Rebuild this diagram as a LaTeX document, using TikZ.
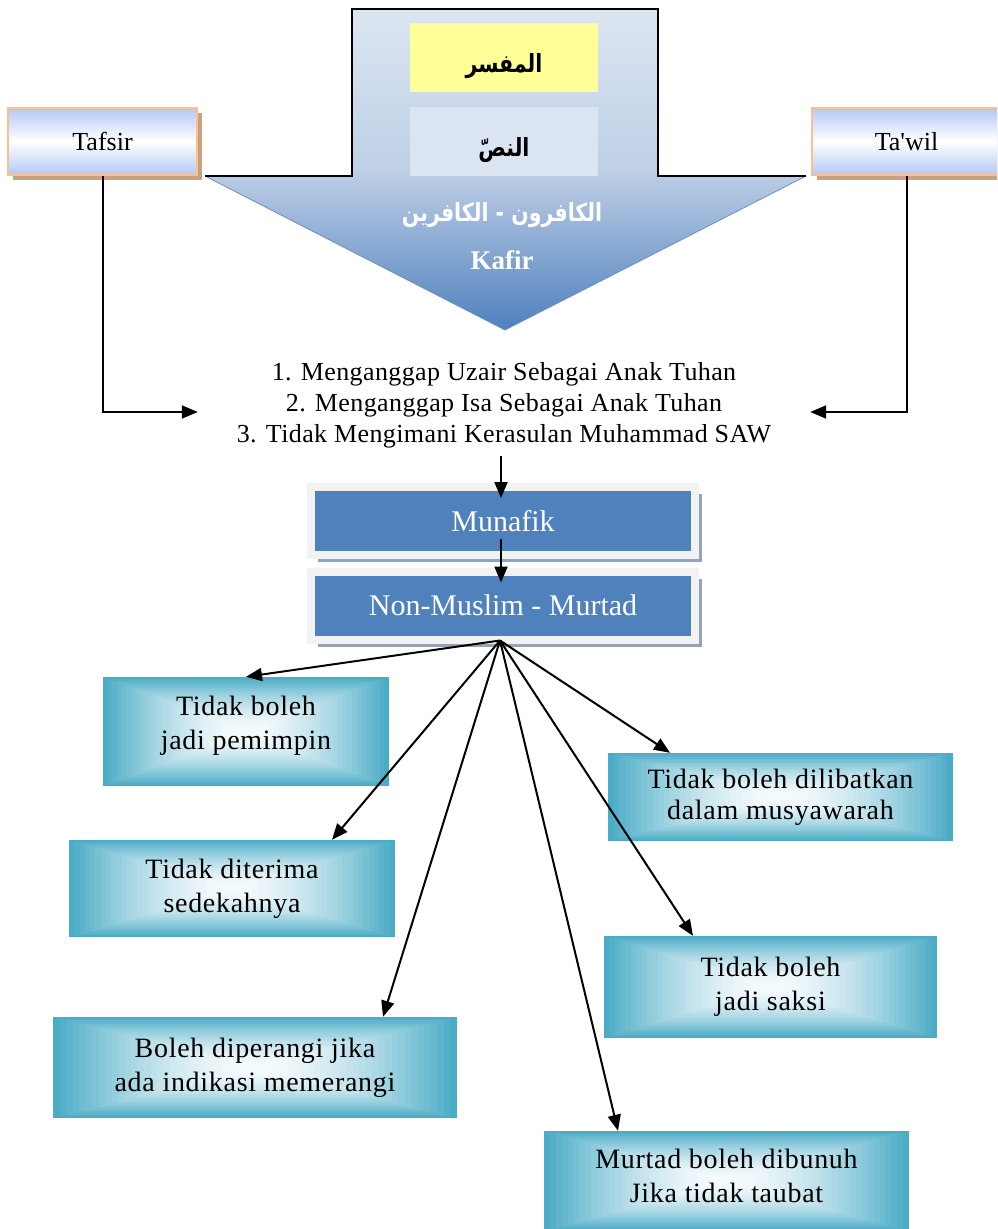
\documentclass[tikz,border=0pt]{standalone}
\usepackage{fontspec}
\setmainfont{Liberation Serif}
\newfontfamily\arabicfont[Script=Arabic,FakeStretch=0.82]{DejaVu Sans}
\newfontfamily\listfont[LetterSpace=1.5]{Liberation Serif}
\newfontfamily\boxfontfam[LetterSpace=2.5]{Liberation Serif}
\TeXXeTstate=1
\usetikzlibrary{calc,arrows.meta,shadows}
\definecolor{tealc}{HTML}{4BACC6}
\definecolor{arrowtop}{HTML}{DCE6F2}
\definecolor{arrowmid}{HTML}{BFCFE6}
\definecolor{arrowbot}{HTML}{4F81BD}
\definecolor{arrowedge}{HTML}{6F8FBF}
\definecolor{yellowc}{HTML}{FFFF99}
\definecolor{paleblue}{HTML}{DBE5F1}
\definecolor{peach}{HTML}{FAC090}
\definecolor{shadowtan}{HTML}{C9A17F}
\definecolor{lightbl}{HTML}{B3C8F4}
\definecolor{boxblue}{HTML}{4F81BD}
\definecolor{greyframe}{HTML}{F2F2F2}
\definecolor{greyshadow}{HTML}{95A3B6}
\tikzset{
  arr/.style={line width=2pt, -{Triangle[length=16pt,width=13pt]}},
  inbox/.style={minimum width=188pt, minimum height=69pt, inner sep=0pt, text height=29pt, text depth=0pt,
    font=\arabicfont\bfseries\fontsize{25}{30}\selectfont},
  sidebox/.style={draw=peach, line width=2pt, top color=lightbl, bottom color=lightbl, middle color=white,
    minimum width=189pt, minimum height=67pt, inner sep=0pt, font=\fontsize{26}{30}\selectfont,
    drop shadow={shadow xshift=5pt, shadow yshift=-5pt, fill=shadowtan, opacity=1}},
  bluebox/.style={fill=boxblue, draw=greyframe, line width=8pt, minimum width=384.5pt, minimum height=68pt,
    inner sep=0pt, text=white, font=\fontsize{30}{34}\selectfont,
    drop shadow={shadow xshift=7pt, shadow yshift=-7pt, fill=greyshadow, opacity=1}},
  tealbox/.style={inner sep=0pt, align=center, font=\boxfontfam\fontsize{28}{34}\selectfont,
    path picture={
      \foreach \i in {0,...,30}{
        \pgfmathsetmacro\pc{5+95*(1-\i/30)^1.6}
        \pgfmathsetmacro\ff{\i/62}
        \fill[tealc!\pc!white] ($(path picture bounding box.south west)!\ff!(path picture bounding box.north east)$)
          rectangle ($(path picture bounding box.north east)!\ff!(path picture bounding box.south west)$);
      }
    }},
}
\begin{document}
\begin{tikzpicture}[x=1pt,y=-1pt]
\path[use as bounding box] (0,0) rectangle (997,1229);
\clip (0,0) rectangle (997,1229);
\fill[white] (0,0) rectangle (997,1229);

% big arrow
\shade[top color=arrowtop, bottom color=arrowbot, middle color=arrowmid]
  (352,9) -- (658,9) -- (658,176) -- (806,176) -- (505,330) -- (205,176) -- (352,176) -- cycle;
\draw[line width=0.8pt, arrowedge] (806,176) -- (505,330) -- (205,176);
\draw[line width=1.3pt, line join=miter] (205,176) -- (352,176) -- (352,9) -- (658,9) -- (658,176) -- (806,176);

\node[inbox, fill=yellowc] (mufassir) at (504,57.5) {\beginR المفسر\endR};
\node[inbox, fill=paleblue] (nass) at (504,141.5) {\beginR النصّ\endR};
\node[text=white, inner sep=0pt] (kafirun) at (502,215) {\arabicfont\bfseries\fontsize{25}{30}\selectfont\beginR الكافرون - الكافرين\endR};
\node[text=white, inner sep=0pt, font=\bfseries\fontsize{27}{30}\selectfont] (kafir) at (502,260) {Kafir};

% side boxes
\node[sidebox] (taf) at (102.5,141.5) {Tafsir};
\node[sidebox] (taw) at (906.5,141.5) {Ta{\addfontfeatures{Ligatures=TeXOff}'}wil};

% list
\node[font=\listfont\fontsize{26}{31}\selectfont, align=center, minimum width=612pt, inner sep=0pt] (list) at (504,405)
  {1. Menganggap Uzair Sebagai Anak Tuhan\\2. Menganggap Isa Sebagai Anak Tuhan\\3. Tidak Mengimani Kerasulan Muhammad SAW};

% blue boxes
\node[bluebox] (mun) at (503,521) {Munafik};
\node[bluebox] (nm) at (503,605.5) {Non-Muslim - Murtad};

% teal boxes
\node[tealbox, minimum width=286pt, minimum height=109pt, text depth=18pt] (b1) at (246,731.5) {Tidak boleh\\jadi pemimpin};
\node[tealbox, minimum width=326pt, minimum height=97pt] (b2) at (232,888.5) {Tidak diterima\\sedekahnya};
\node[tealbox, minimum width=404pt, minimum height=101pt] (b3) at (255,1067.5) {Boleh diperangi jika\\ada indikasi memerangi};
\node[tealbox, minimum width=365pt, minimum height=100pt, text depth=10pt] (b4) at (726.5,1181) {Murtad boleh dibunuh\\Jika tidak taubat};
\node[tealbox, minimum width=333pt, minimum height=102pt] (b5) at (770.5,987) {Tidak boleh\\jadi saksi};
\node[tealbox, minimum width=345pt, minimum height=88pt, font=\boxfontfam\fontsize{28}{31}\selectfont] (b6) at (780.5,797) {Tidak boleh dilibatkan\\dalam musyawarah};

% connectors
\draw[arr] (taf.south) |- ($(list.west)+(0,7)$);
\draw[arr] (taw.south) |- ($(list.east)+(0,7)$);
\draw[arr] ($(list.south -| mun.north)+(-2,8)$) -- ($(mun.north)+(-2,15)$);
\draw[arr] ($(mun.center)+(-2,18)$) -- ($(nm.north)+(-2,15)$);
\coordinate (fan) at ($(nm.south)+(-3,-3)$);
\draw[arr] (fan) -- (b1.north);
\draw[arr] (fan) -- ($(b2.north)+(100,0)$);
\draw[arr] (fan) -- ($(b3.north)+(128,0)$);
\draw[arr] (fan) -- ($(b4.north)+(-108.5,0)$);
\draw[arr] (fan) -- ($(b5.north)+(-77.5,0)$);
\draw[arr] (fan) -- ($(b6.north)+(-110.5,0)$);
\end{tikzpicture}
\end{document}
